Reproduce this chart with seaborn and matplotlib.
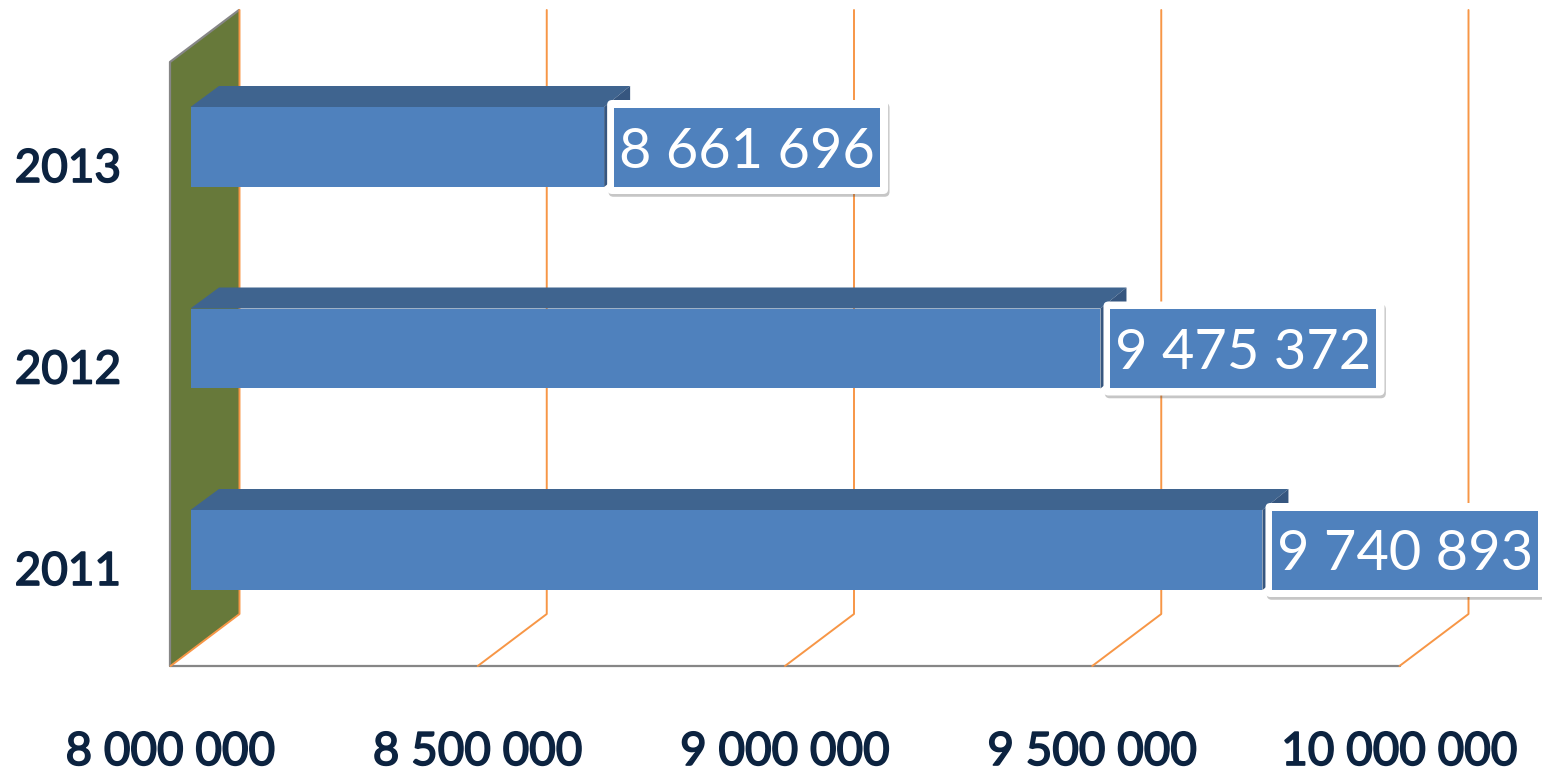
import matplotlib
matplotlib.use('Agg')
import matplotlib.pyplot as plt
import matplotlib.patheffects as pe
from matplotlib.patches import FancyBboxPatch, Rectangle
import pandas as pd
import seaborn as sns

years = ['2013', '2012', '2011']
values = [8661696, 9475372, 9740893]
value_labels = ['8 661 696', '9 475 372', '9 740 893']
ticks = [8000000, 8500000, 9000000, 9500000, 10000000]
tick_labels = ['8 000 000', '8 500 000', '9 000 000', '9 500 000', '10 000 000']

W, H = 1542, 774
BLUE = '#4f81bd'
TOP = '#3f648f'
SIDE = '#36567f'
WALL = '#67793a'
ORANGE = '#f79646'
GRAY = '#868686'
INK = '#0c2340'

sns.set_style('white')
plt.rcParams['font.family'] = ['Lato', 'DejaVu Sans']

fig = plt.figure(figsize=(W / 100, H / 100), dpi=100)


def pixel_axes():
    ax = fig.add_axes([0, 0, 1, 1])
    ax.set_xlim(0, W)
    ax.set_ylim(H, 0)
    ax.axis('off')
    return ax


def floor_x(v):
    return 170.5 + (v - 8000000) * 614.5e-6


def bar_x(v):
    return 200.5 + (v - 8000000) * 610e-6


# back layer: wall, floor, gridlines and the 3d faces of the bars
back = pixel_axes()
back.fill([170, 239, 239, 170], [62, 10, 614, 666], color=WALL, lw=0)
back.plot([170, 170, 239], [666, 62, 10], color=GRAY, lw=1.6)
back.plot([170, floor_x(ticks[-1])], [666, 666], color=GRAY, lw=1.6)

for t, lab in zip(ticks, tick_labels):
    x = floor_x(t)
    back.plot([x, x + 69, x + 69], [666, 614, 10], color=ORANGE, lw=1.4)
    back.text(x, 752, lab, ha='center', va='center', fontsize=33, color=INK,
              path_effects=[pe.withStroke(linewidth=1.2, foreground=INK)])

# bars, clipped at the left edge like a truncated axis
front = fig.add_axes([190.5 / W, 0, 1 - 190.5 / W, 1])
front.patch.set_alpha(0)
df = pd.DataFrame({'year': years, 'value': values})
sns.barplot(data=df, x='value', y='year', order=years, orient='h', color=BLUE,
            saturation=1, width=0.397, linewidth=0, ax=front)
front.set_xlim(8000000 - 10 / 610e-6, 8000000 + (W - 200.5) / 610e-6)
front.set_ylim((H - 147) / 201.5, -147 / 201.5)
front.set_xlabel('')
front.set_ylabel('')
front.set_xticks([])
front.set_yticks([i + 18 / 201.5 for i in range(3)], years)
front.tick_params(axis='y', length=0, pad=50)
for lab in front.get_yticklabels():
    lab.set_fontsize(33)
    lab.set_color(INK)
    lab.set_path_effects([pe.withStroke(linewidth=1.2, foreground=INK)])
sns.despine(ax=front, left=True, bottom=True)

# value labels go on their own layer above the bars
over = pixel_axes()
for i, (v, lab) in enumerate(zip(values, value_labels)):
    y0 = 107 + 201.5 * i
    cy = y0 + 40
    x = bar_x(v)
    back.fill([190.5, 219, x + 26, x], [y0, y0 - 21, y0 - 21, y0], color=TOP, lw=0, zorder=3)
    back.fill([x, x + 26, x + 26, x], [y0, y0 - 21, y0 + 59, y0 + 80], color=SIDE, lw=0, zorder=3)
    box = FancyBboxPatch((x + 6, cy - 44), 275, 88, boxstyle='round,pad=3,rounding_size=5',
                         fc='white', ec='none')
    box.set_path_effects([
        pe.SimplePatchShadow(offset=(1, -2), alpha=0.3, shadow_rgbFace='#444444'),
        pe.Normal(),
    ])
    over.add_patch(box)
    over.add_patch(Rectangle((x + 10, cy - 39.5), 266, 79, fc=BLUE, ec='none'))
    over.text(x + 143, cy + 5, lab, ha='center', va='center', fontsize=40.3, color='white')

fig.savefig('out.png', dpi=100)
